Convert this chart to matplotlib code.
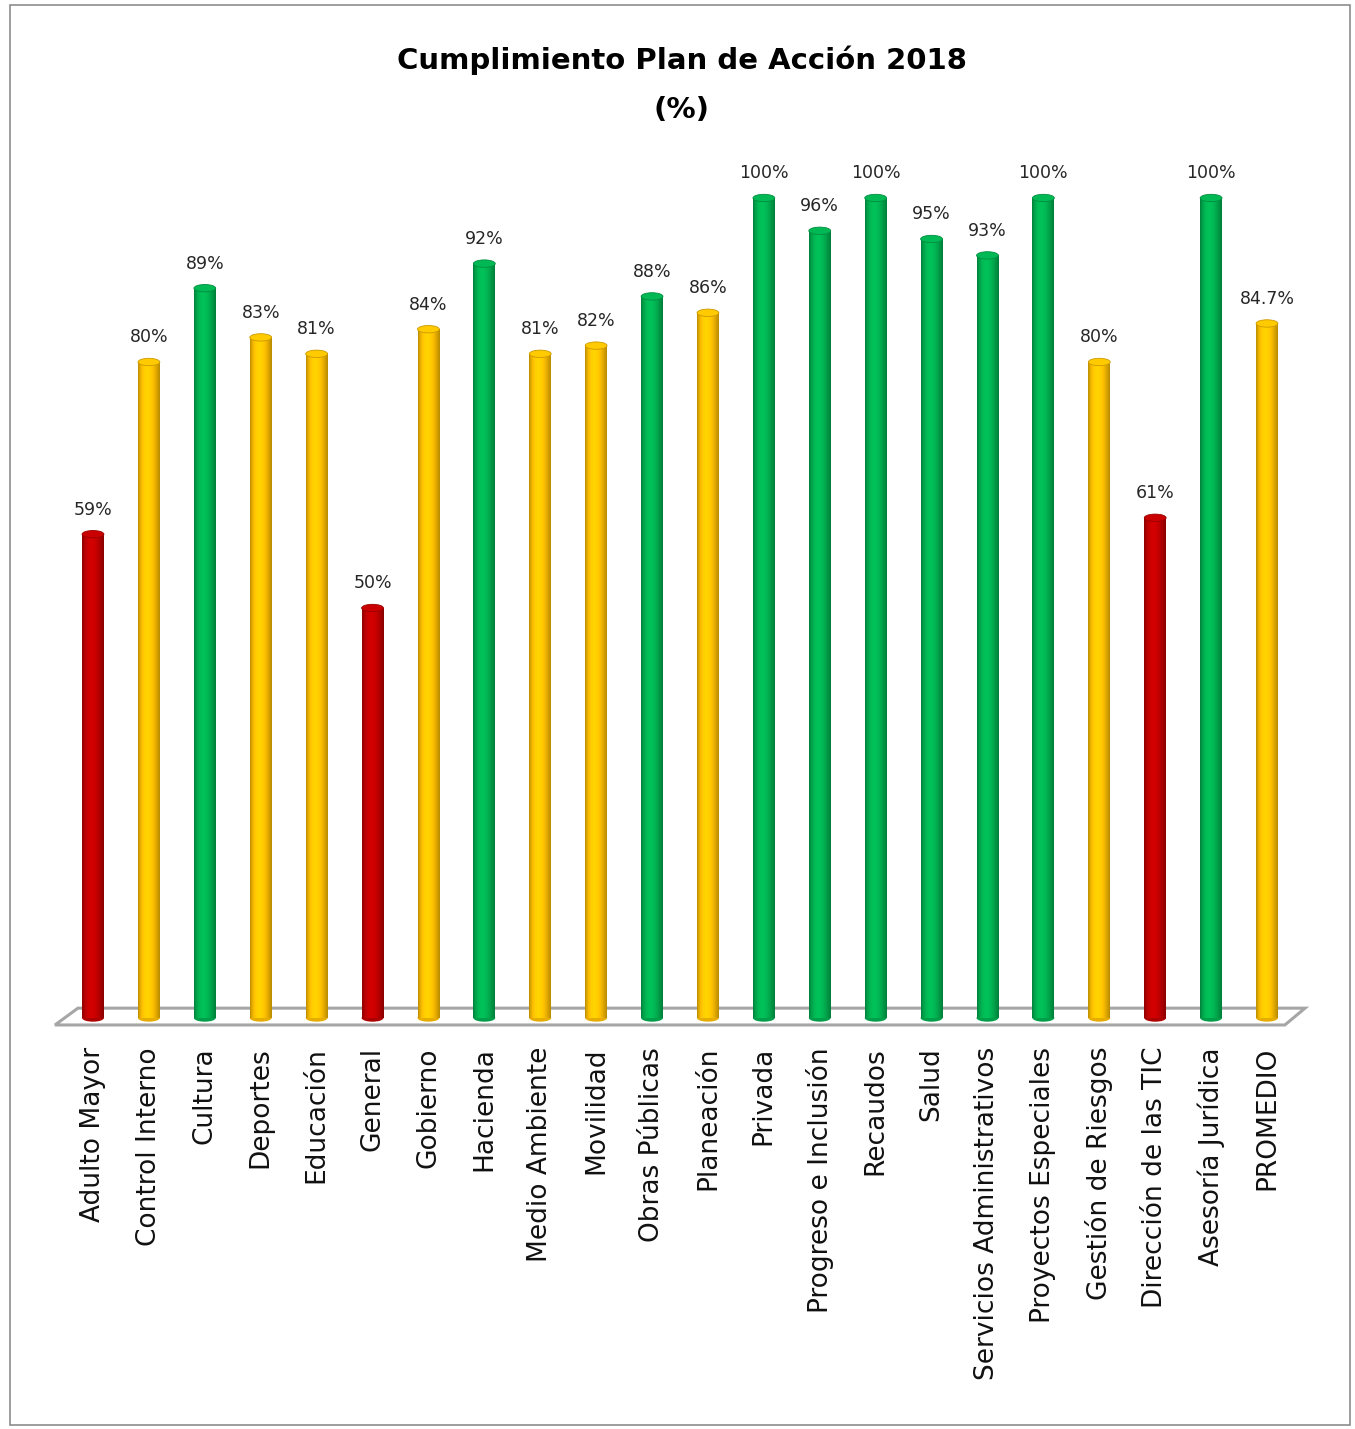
import numpy as np
import matplotlib
matplotlib.use("Agg")
import matplotlib.pyplot as plt
from matplotlib.patches import Ellipse, Polygon, Rectangle
from matplotlib.colors import to_rgb

categorias = ["Adulto Mayor", "Control Interno", "Cultura", "Deportes", "Educación",
              "General", "Gobierno", "Hacienda", "Medio Ambiente", "Movilidad",
              "Obras Públicas", "Planeación", "Privada", "Progreso e Inclusión",
              "Recaudos", "Salud", "Servicios Administrativos", "Proyectos Especiales",
              "Gestión de Riesgos", "Dirección de las TIC", "Asesoría Jurídica", "PROMEDIO"]
valores = [59, 80, 89, 83, 81, 50, 84, 92, 81, 82, 88, 86, 100, 96, 100, 95, 93, 100,
           80, 61, 100, 84.7]
etiquetas = ["59%", "80%", "89%", "83%", "81%", "50%", "84%", "92%", "81%", "82%", "88%",
             "86%", "100%", "96%", "100%", "95%", "93%", "100%", "80%", "61%", "100%", "84.7%"]

ROJO, AMARILLO, VERDE = "#C00000", "#FFC000", "#00B050"

def color_de(v):
    if v < 70:
        return ROJO
    if v < 87:
        return AMARILLO
    return VERDE

W, H = 1355, 1429
fig = plt.figure(figsize=(W / 100, H / 100), dpi=100)
fig.patch.set_facecolor("white")

# marco del grafico
fig.add_artist(Rectangle((10 / W, 1 - 1425 / H), 1340 / W, 1420 / H,
                         transform=fig.transFigure, fill=False,
                         edgecolor="#8c8c8c", linewidth=1.2))

ax_l, ax_r, ax_t, ax_b = 40, 1320, 150, 1040
ax = fig.add_axes([ax_l / W, 1 - ax_b / H, (ax_r - ax_l) / W, (ax_b - ax_t) / H])
px_x = 55.9
px_y = 8.2
ax.set_xlim(-(93 - ax_l) / px_x, 21 + (ax_r - 1267) / px_x)
ax.set_ylim(-(ax_b - 1018) / px_y, 100 + (198 - ax_t) / px_y)
ax.axis("off")

# piso 3D
piso = Polygon([(-0.68, -0.85), (-0.27, 1.2), (21.68, 1.2), (21.32, -0.85)],
               closed=True, facecolor="white", edgecolor="#A6A6A6", linewidth=2.2,
               zorder=1, clip_on=False)
ax.add_patch(piso)

ancho = 0.39
t = np.linspace(0, 1, 60)
sombra = 0.72 + 0.38 * np.sin(np.pi * t ** 0.8)

for i, v in enumerate(valores):
    base = np.array(to_rgb(color_de(v)))
    franja = np.clip(base[None, :] * sombra[:, None], 0, 1)[None, :, :]
    ax.imshow(franja, extent=(i - ancho / 2, i + ancho / 2, 0, v), aspect="auto",
              zorder=3, interpolation="bilinear")
    ax.add_patch(Ellipse((i, 0), ancho, 0.9, facecolor=base * 0.9, edgecolor="none",
                         zorder=2.9))
    tapa = np.clip(base * 1.05, 0, 1)
    ax.add_patch(Ellipse((i, v), ancho, 0.9, facecolor=tapa, edgecolor=base * 0.8,
                         linewidth=0.6, zorder=4))
    ax.text(i, v + 1.9, etiquetas[i], ha="center", va="bottom", fontsize=12.5,
            color="#262626", zorder=5)
ax.set_aspect("auto")

for i, c in enumerate(categorias):
    ax.text(i, -(1047 - 1018) / px_y, c, rotation=90, ha="center", va="top",
            fontsize=19, color="#111111", clip_on=False)

fig.text(682 / W, 1 - 60 / H, "Cumplimiento Plan de Acción 2018", ha="center",
         va="center", fontsize=21, fontweight="bold")
fig.text(682 / W, 1 - 110 / H, "(%)", ha="center", va="center", fontsize=21,
         fontweight="bold")

fig.savefig("out.png", dpi=100, facecolor="white")
